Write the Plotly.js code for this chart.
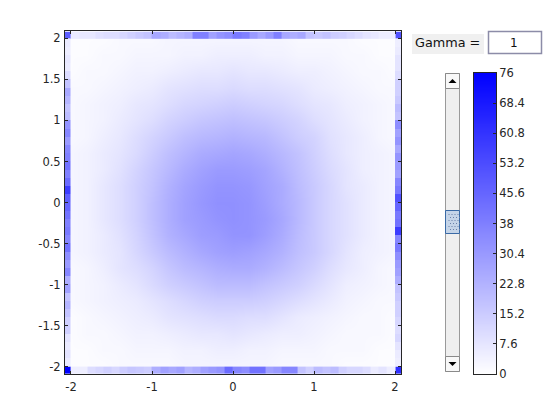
<!DOCTYPE html>
<html><head><meta charset="utf-8">
<script src="https://cdn.plot.ly/plotly-3.0.1.min.js"></script>
<style>html,body{margin:0;padding:0;background:#fff}#g{width:560px;height:420px}</style>
</head><body><div id="g"></div>
<script>
// Estimated counts (top row first, y = 2 ... -2, x = -2 ... 2)
const gridX = [-2,-1.8,-1.6,-1.4,-1.2,-1,-0.8,-0.6,-0.4,-0.2,0,0.2,0.4,0.6,0.8,1,1.2,1.4,1.6,1.8,2];
const gridY = [2,1.8,1.6,1.4,1.2,1,0.8,0.6,0.4,0.2,0,-0.2,-0.4,-0.6,-0.8,-1,-1.2,-1.4,-1.6,-1.8,-2];
const density = [
[1,1,1,2,2,2,3,3,3,3,3,3,3,3,2,2,2,2,1,1,1],
[1,1,2,2,3,3,3,4,4,5,5,5,4,4,3,3,3,2,2,1,1],
[1,2,2,3,4,4,5,6,7,7,8,7,7,6,5,5,4,3,2,2,1],
[2,2,3,4,5,6,8,9,10,10,11,10,10,9,8,6,5,4,3,2,2],
[2,3,4,5,7,8,10,12,13,14,15,14,13,12,10,8,7,5,4,3,2],
[2,3,4,6,8,10,13,15,17,18,19,18,17,15,13,10,8,6,4,3,2],
[2,3,5,7,10,13,16,19,21,22,23,22,21,18,15,13,9,7,5,3,2],
[3,4,6,8,11,15,19,22,25,26,27,26,24,21,18,14,10,7,5,4,3],
[3,4,6,9,13,17,21,25,28,30,30,29,27,23,19,15,11,8,5,4,3],
[3,4,7,10,14,18,23,27,30,32,32,31,28,25,20,16,12,8,6,4,3],
[3,4,7,10,14,19,24,28,31,33,33,32,29,25,21,16,12,9,6,4,3],
[3,4,7,10,14,19,24,28,30,32,33,32,30,26,21,16,12,9,6,4,3],
[3,4,6,9,13,18,23,26,29,30,32,32,29,25,20,16,12,9,6,4,3],
[3,4,6,8,12,16,20,23,26,28,29,28,26,23,19,16,12,8,5,4,3],
[2,3,5,8,10,13,17,20,22,24,25,25,23,20,17,14,10,7,5,3,2],
[2,3,4,6,8,11,14,16,18,20,20,20,18,16,14,11,8,5,4,3,2],
[2,3,4,5,6,8,10,12,14,15,15,15,14,12,10,8,6,4,3,2,2],
[1,2,3,4,5,6,8,9,10,11,11,10,10,8,6,5,4,3,2,2,1],
[1,2,2,3,4,4,5,6,7,7,8,7,6,5,5,4,3,2,2,2,1],
[1,1,2,2,3,3,3,4,4,5,5,4,4,3,3,3,2,2,2,1,1],
[1,1,1,2,2,2,2,3,3,3,3,3,3,2,2,2,2,1,1,1,1]];

// Outer rim bins, left to right (top/bottom) and top to bottom (left/right)
const topRim = [6,7,7,9,10,10,12,14,16,18,26,24,20,22,24,38,38,28,32,34,40,38,30,26,30,38,26,24,26,18,16,18,15,14,12,10,8,7,5,5];
const bottomRim = [5,5,10,12,14,12,15,17,16,15,24,28,26,28,22,24,28,30,32,44,36,34,42,42,28,30,36,36,18,14,20,18,20,14,12,12,10,6,8,5];
const leftRim = [6,5,7,6,10,18,26,22,18,20,32,36,30,36,38,42,38,44,58,48,46,42,38,40,36,42,34,30,36,24,28,18,22,18,14,14,8,6,8,6];
const rightRim = [5,6,8,8,10,14,14,16,20,18,34,28,32,26,32,30,28,36,40,52,46,40,42,58,36,40,34,30,28,24,18,16,14,14,12,10,12,8,6,5];
const corners = {topLeft:48, topRight:52, bottomLeft:76, bottomRight:62};

const colorTicks = [0,7.6,15.2,22.8,30.4,38,45.6,53.2,60.8,68.4,76];
const xTicks = [-2,-1,0,1,2];
const yTicks = [-2,-1.5,-1,-0.5,0,0.5,1,1.5,2];
const gammaLabel = 'Gamma =';
const gammaValue = '1';

const ink = '#262626', W = 560, H = 420;
const blues = [[0,'#ffffff'],[1,'#0000ff']];
const OUT = 2.08, STEP = 0.1;
const label = v => String(v);
const rimEdges = [-OUT];
for (let i = 0; i <= 40; i++) rimEdges.push(+(-2 + i * STEP).toFixed(2));
rimEdges.push(OUT);
const base = {type:'heatmap', colorscale:blues, zmin:0, zmax:76, showscale:false, hoverinfo:'skip', xgap:0, ygap:0};
const ramp = [];
for (let i = 0; i <= 76; i++) ramp.push(i);

const traces = [
 Object.assign({}, base, {x:gridX, y:gridY, z:density, zsmooth:'best'}),
 Object.assign({}, base, {x:rimEdges, y:[2,OUT], z:[[corners.topLeft].concat(topRim,[corners.topRight])]}),
 Object.assign({}, base, {x:rimEdges, y:[-OUT,-2], z:[[corners.bottomLeft].concat(bottomRim,[corners.bottomRight])]}),
 Object.assign({}, base, {x:[-OUT,-2], y:rimEdges.slice(1,-1), z:leftRim.slice().reverse().map(v=>[v])}),
 Object.assign({}, base, {x:[2,OUT], y:rimEdges.slice(1,-1), z:rightRim.slice().reverse().map(v=>[v])}),
 Object.assign({}, base, {x:[0,1], y:ramp, z:ramp.map(v=>[v,v]), zsmooth:'best', xaxis:'x2', yaxis:'y2'})
];

const px = x => x / W, py = y => 1 - y / H;
const rect = (x0,y0,x1,y1,fill,line,lw) => ({type:'rect', xref:'paper', yref:'paper', layer:'above',
  x0:px(x0), x1:px(x1), y0:py(y1), y1:py(y0), fillcolor:fill, line:{color:line||fill, width:line?(lw||1):0}});
const tri = (cx,cy,up) => {
  const a = up ? -2 : 2;
  return {type:'path', xref:'paper', yref:'paper', layer:'above', fillcolor:'#000', line:{width:0},
    path:`M${px(cx-4)},${py(cy-a)} L${px(cx+4)},${py(cy-a)} L${px(cx)},${py(cy+a)} Z`};
};
const shapes = [
  rect(412,34,484,54,'#f0f0f0'),
  rect(488.5,31.5,541.5,53.5,'#ffffff','#8c8ca8',1.5),
  rect(445.5,73.5,459.5,371.5,'#efefef','#9a9a9a',1),
  rect(445.5,73.5,459.5,88.5,'#f8f8f8','#8a8a8a',1),
  rect(445.5,356.5,459.5,371.5,'#f8f8f8','#8a8a8a',1),
  tri(452.5,81,true), tri(452.5,364,false),
  rect(445.5,210.5,459.5,233.5,'#c4d4e8','#3a6aa6',1)
];
for (let r = 0; r < 6; r++) for (let c = 0; c < 4; c++) {
  const x = 448.5 + c*3 + (r%2)*1.5, y = 214 + r*3;
  shapes.push(rect(x,y,x+1,y+1,'#6a80a8'));
}

const tickFont = {family:'DejaVu Sans', size:11.5, color:ink};
const axisStyle = {ticks:'inside', ticklen:3, tickcolor:ink, tickwidth:1, showline:true, mirror:'ticks', linecolor:ink, linewidth:1,
  showgrid:false, zeroline:false, automargin:false, tickfont:tickFont, tickmode:'array'};
const layout = {
  width:W, height:H, margin:{l:0,r:0,t:0,b:0,pad:0}, paper_bgcolor:'#fff', plot_bgcolor:'#fff', showlegend:false,
  xaxis:Object.assign({}, axisStyle, {domain:[65/W,401/W], range:[-2.074,2.074], tickvals:xTicks, ticktext:xTicks.map(label), ticklabelstandoff:2}),
  yaxis:Object.assign({}, axisStyle, {domain:[1-374/H,1-31/H], range:[-2.09,2.09], tickvals:yTicks, ticktext:yTicks.map(label), ticklabelstandoff:1}),
  xaxis2:{domain:[474/W,496/W], anchor:'y2', range:[0,1], showticklabels:false, ticks:'', showline:true, mirror:true, linecolor:ink, linewidth:1, showgrid:false, zeroline:false},
  yaxis2:Object.assign({}, axisStyle, {domain:[1-374/H,1-73/H], anchor:'x2', side:'right', range:[0,76], mirror:true, tickvals:colorTicks, ticktext:colorTicks.map(label)}),
  shapes:shapes,
  annotations:[
    {xref:'paper',yref:'paper',x:px(413),y:py(43),xanchor:'left',yanchor:'middle',showarrow:false,text:gammaLabel,font:{family:'DejaVu Sans',size:12.8,color:'#111'}},
    {xref:'paper',yref:'paper',x:px(514),y:py(43),xanchor:'center',yanchor:'middle',showarrow:false,text:gammaValue,font:{family:'DejaVu Sans',size:12,color:'#111'}}
  ]
};
Plotly.newPlot('g', traces, layout, {displayModeBar:false, staticPlot:true, responsive:false});
</script></body></html>
